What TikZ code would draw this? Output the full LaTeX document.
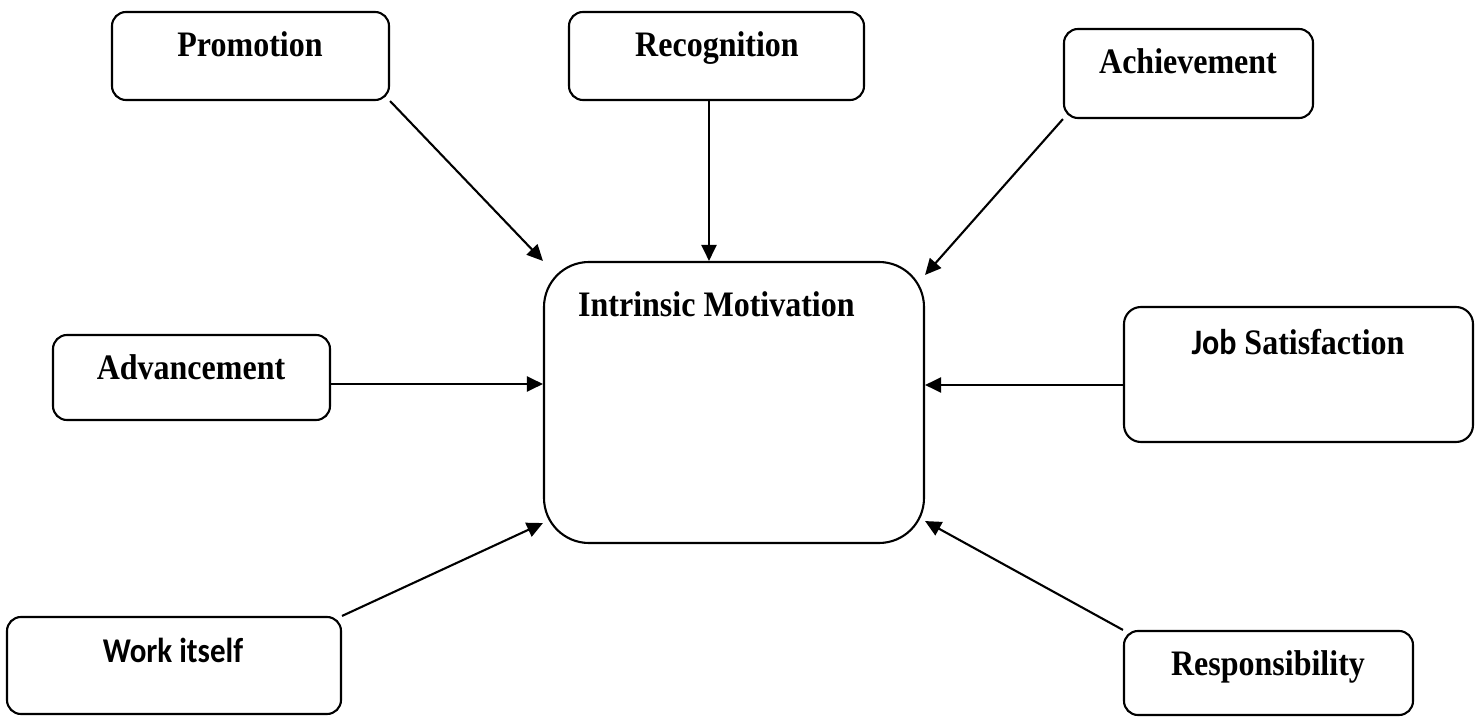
\documentclass[tikz,border=0pt]{standalone}
\usepackage{fontspec}
\setmainfont{Liberation Serif}
\newfontfamily\calfont{Carlito}
\usetikzlibrary{arrows.meta}
\newcommand{\tall}[1]{\scalebox{1}[1.12]{#1}}
\begin{document}
\begin{tikzpicture}[x=1pt,y=1pt,
  box/.style={draw=black, line width=2.1pt, rounded corners=14pt, inner sep=0pt},
  lbl/.style={anchor=base, inner sep=0pt, font=\fontsize{32}{38}\selectfont\bfseries},
  conn/.style={line width=2.1pt, -{Triangle[length=16pt,width=15pt]}}]
\useasboundingbox (0,0) rectangle (1481,716);
% boxes
\node[box, minimum width=277pt, minimum height=88pt] (prom) at (250.5,660) {};
\node[box, minimum width=295pt, minimum height=88pt] (rec) at (716.5,660) {};
\node[box, minimum width=249pt, minimum height=89pt] (ach) at (1188.5,642.5) {};
\node[box, minimum width=277pt, minimum height=85pt] (adv) at (191.5,338.5) {};
\node[box, rounded corners=45pt, minimum width=380pt, minimum height=281pt] (im) at (734,313.5) {};
\node[box, rounded corners=17pt, minimum width=349pt, minimum height=135pt] (js) at (1298.5,341.5) {};
\node[box, minimum width=334pt, minimum height=97pt] (work) at (174,50.5) {};
\node[box, minimum width=289pt, minimum height=84pt] (resp) at (1268.5,43) {};
% labels
\node[lbl] (promt) at (250,659) {\tall{Promotion}};
\node[lbl] (rect) at (717,659) {\tall{Recognition}};
\node[lbl] (acht) at (1188,642) {\tall{Achievement}};
\node[lbl] (advt) at (191,337) {\tall{Advancement}};
\node[lbl, anchor=base west] (imt) at (578,399) {\tall{Intrinsic Motivation}};
\node[lbl] (jst) at (1298,361) {\tall{{\calfont Job} Satisfaction}};
\node[lbl, font=\fontsize{31}{37}\selectfont\bfseries\calfont] (workt) at (173,54) {\tall{Work itself}};
\node[lbl] (respt) at (1268,41) {\tall{Responsibility}};
% connectors
\draw[conn] (prom.south east) -- (im.north west);
\draw[conn] ([xshift=-7.5pt]rec.south) -- ([xshift=-7.5pt]rec.south |- im.north);
\draw[conn] (ach.south west) -- ([yshift=-14pt]im.north east);
\draw[conn] ([yshift=-6.5pt]adv.east) -- ([yshift=-6.5pt]adv.east -| im.west);
\draw[conn] ([yshift=-10.5pt]js.west) -- ([yshift=-10.5pt]js.west -| im.east);
\draw[conn] (work.north east) -- ([yshift=21pt]im.south west);
\draw[conn] (resp.north west) -- ([yshift=23pt]im.south east);
\end{tikzpicture}
\end{document}
